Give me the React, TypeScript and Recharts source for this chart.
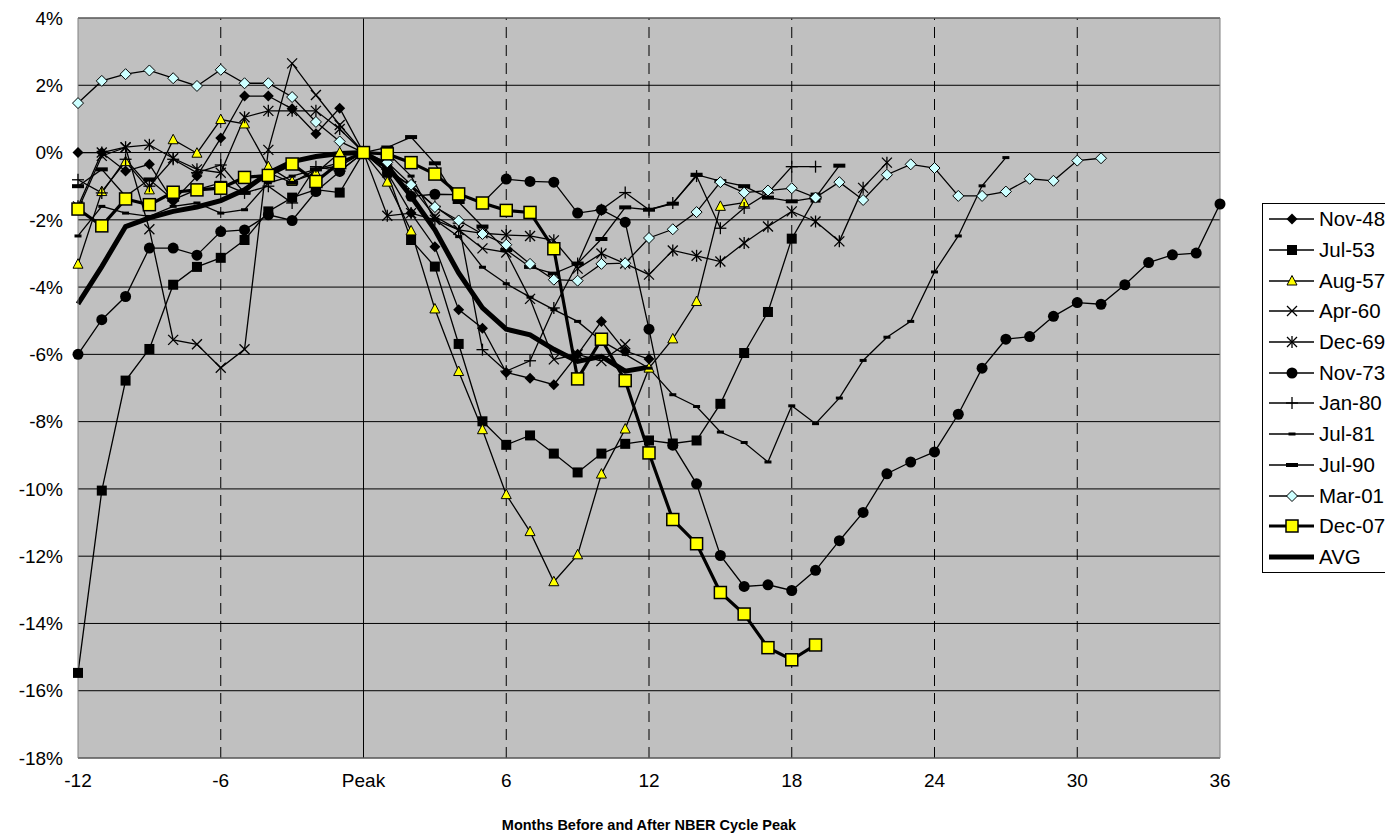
import { CartesianGrid, Line, LineChart, ReferenceLine, XAxis, YAxis } from 'recharts'

// months relative to the NBER cycle peak
const months = [
  -12, -11, -10, -9, -8, -7, -6, -5, -4, -3, -2, -1, 0, 1, 2, 3, 4, 5, 6, 7, 8, 9, 10, 11, 12,
  13, 14, 15, 16, 17, 18, 19, 20, 21, 22, 23, 24, 25, 26, 27, 28, 29, 30, 31, 32, 33, 34, 35, 36,
]
const xTicks = [-12, -6, 0, 6, 12, 18, 24, 30, 36]
const yTicks = [-18, -16, -14, -12, -10, -8, -6, -4, -2, 0, 2, 4]
const dashedMonths = [-6, 6, 12, 18, 24, 30]

// % change from peak, each list starts at month -12
const nov48 = [0.0, 0.0, -0.55, -0.35, -1.45, -0.7, 0.43, 1.68, 1.68, 1.3, 0.56, 1.32, 0, -0.6, -1.8, -2.8, -4.67, -5.22, -6.54, -6.71, -6.9, -6.0, -5.02, -5.9, -6.14]
const jul53 = [-15.47, -10.05, -6.78, -5.84, -3.93, -3.4, -3.13, -2.6, -1.75, -1.34, -1.1, -1.19, 0, -0.6, -2.6, -3.39, -5.69, -7.99, -8.69, -8.41, -8.95, -9.51, -8.95, -8.66, -8.56, -8.65, -8.56, -7.47, -5.96, -4.74, -2.56, -1.34]
const aug57 = [-3.32, -1.16, -0.27, -1.11, 0.38, -0.02, 0.98, 0.85, -0.42, -0.86, -0.61, 0.0, 0, -0.88, -2.33, -4.65, -6.51, -8.24, -10.17, -11.27, -12.76, -11.96, -9.56, -8.22, -6.41, -5.54, -4.43, -1.6, -1.49]
const apr60 = [-1.7, -0.1, 0.15, -2.28, -5.57, -5.7, -6.4, -5.85, 0.08, 2.65, 1.71, 0.82, 0, -0.5, -1.0, -1.9, -2.3, -2.85, -2.97, -4.35, -6.15, -6.0, -6.2, -5.7]
const dec69 = [-1.6, 0.0, 0.16, 0.23, -0.17, -0.5, -0.6, 1.05, 1.24, 1.24, 1.24, 0.7, 0, -1.88, -1.8, -2.0, -2.3, -2.4, -2.45, -2.48, -2.61, -3.45, -3.0, -3.3, -3.63, -2.91, -3.07, -3.24, -2.69, -2.2, -1.75, -2.05, -2.64, -1.05, -0.3]
const nov73 = [-6.0, -4.97, -4.28, -2.84, -2.84, -3.05, -2.35, -2.3, -1.85, -2.02, -1.16, -0.56, 0, -0.5, -1.3, -1.24, -1.25, -1.5, -0.79, -0.86, -0.88, -1.8, -1.7, -2.07, -5.25, -8.7, -9.85, -11.98, -12.9, -12.85, -13.02, -12.42, -11.54, -10.7, -9.55, -9.2, -8.9, -7.78, -6.41, -5.55, -5.47, -4.87, -4.46, -4.51, -3.93, -3.27, -3.04, -2.99, -1.53]
const jan80 = [-0.81, -1.2, -0.2, -1.0, -0.2, -0.6, -0.37, -1.2, -1.0, -1.5, -0.42, -0.55, 0, -0.5, -1.0, -1.6, -2.1, -5.86, -6.5, -6.19, -4.62, -3.3, -1.7, -1.19, -1.7, -1.5, -0.7, -2.25, -1.65, -1.2, -0.42, -0.42]
const jul81 = [-2.48, -1.6, -1.8, -1.9, -1.6, -1.5, -1.8, -1.7, -0.9, -0.7, -0.5, -0.3, 0, 0.0, -0.7, -2.0, -2.5, -3.41, -3.9, -4.3, -4.67, -5.02, -5.6, -6.0, -6.41, -7.2, -7.55, -8.31, -8.62, -9.2, -7.53, -8.06, -7.3, -6.18, -5.49, -5.02, -3.55, -2.48, -0.99, -0.15]
const jul90 = [-1.0, -0.5, -1.3, -0.8, -1.4, -1.1, -0.9, -1.2, -0.6, -0.9, -0.5, -0.4, 0, 0.15, 0.46, -0.32, -1.47, -2.2, -2.9, -3.4, -3.6, -3.3, -2.57, -1.63, -1.7, -1.52, -0.66, -0.85, -1.0, -1.34, -1.45, -1.34, -0.39]
const mar01 = [1.47, 2.13, 2.33, 2.44, 2.21, 1.98, 2.46, 2.06, 2.06, 1.65, 0.91, 0.33, 0, -0.29, -0.96, -1.62, -2.02, -2.42, -2.74, -3.31, -3.78, -3.81, -3.31, -3.29, -2.54, -2.28, -1.77, -0.88, -1.19, -1.13, -1.06, -1.34, -0.88, -1.41, -0.66, -0.35, -0.46, -1.29, -1.29, -1.16, -0.78, -0.84, -0.24, -0.17]
const dec07 = [-1.68, -2.18, -1.38, -1.55, -1.18, -1.11, -1.06, -0.74, -0.68, -0.34, -0.86, -0.3, 0, -0.04, -0.3, -0.64, -1.23, -1.5, -1.72, -1.78, -2.86, -6.73, -5.55, -6.78, -8.93, -10.91, -11.63, -13.08, -13.72, -14.72, -15.08, -14.64]
const avg = [-4.5, -3.39, -2.2, -1.94, -1.75, -1.62, -1.43, -1.11, -0.61, -0.27, -0.12, -0.03, 0, -0.4, -1.3, -2.3, -3.58, -4.62, -5.25, -5.42, -5.85, -6.21, -6.06, -6.5, -6.38]

type Shape = 'diamond' | 'square' | 'triangle' | 'x' | 'star' | 'circle' | 'plus' | 'dashS' | 'dashL' | 'cyanDiamond' | 'yellowSquare' | 'none'

type Series = { key: string; name: string; values: number[]; shape: Shape; width: number }

const seriesList: Series[] = [
  { key: 'nov48', name: 'Nov-48', values: nov48, shape: 'diamond', width: 1.3 },
  { key: 'jul53', name: 'Jul-53', values: jul53, shape: 'square', width: 1.3 },
  { key: 'aug57', name: 'Aug-57', values: aug57, shape: 'triangle', width: 1.3 },
  { key: 'apr60', name: 'Apr-60', values: apr60, shape: 'x', width: 1.3 },
  { key: 'dec69', name: 'Dec-69', values: dec69, shape: 'star', width: 1.3 },
  { key: 'nov73', name: 'Nov-73', values: nov73, shape: 'circle', width: 1.3 },
  { key: 'jan80', name: 'Jan-80', values: jan80, shape: 'plus', width: 1.3 },
  { key: 'jul81', name: 'Jul-81', values: jul81, shape: 'dashS', width: 1.3 },
  { key: 'jul90', name: 'Jul-90', values: jul90, shape: 'dashL', width: 1.3 },
  { key: 'mar01', name: 'Mar-01', values: mar01, shape: 'cyanDiamond', width: 1.3 },
  { key: 'dec07', name: 'Dec-07', values: dec07, shape: 'yellowSquare', width: 3.2 },
  { key: 'avg', name: 'AVG', values: avg, shape: 'none', width: 5 },
]

// AVG sits under Dec-07 in the original
const drawOrder = ['nov48', 'jul53', 'aug57', 'apr60', 'dec69', 'nov73', 'jan80', 'jul81', 'jul90', 'mar01', 'avg', 'dec07']

const chartData = months.map((m, i) => {
  const row: Record<string, number | undefined> = { m }
  seriesList.forEach((s) => {
    if (i < s.values.length) row[s.key] = s.values[i]
  })
  return row
})

const Marker = ({ shape, cx, cy }: { shape: Shape; cx: number; cy: number }) => {
  switch (shape) {
    case 'diamond':
      return <polygon points={`${cx},${cy - 5.5} ${cx + 5.5},${cy} ${cx},${cy + 5.5} ${cx - 5.5},${cy}`} fill="#000" />
    case 'square':
      return <rect x={cx - 5} y={cy - 5} width={10} height={10} fill="#000" />
    case 'triangle':
      return <polygon points={`${cx},${cy - 5.5} ${cx + 5},${cy + 4} ${cx - 5},${cy + 4}`} fill="#ffff00" stroke="#000" strokeWidth={1} />
    case 'x':
      return (
        <g stroke="#000" strokeWidth={1.3}>
          <line x1={cx - 5} y1={cy - 5} x2={cx + 5} y2={cy + 5} />
          <line x1={cx - 5} y1={cy + 5} x2={cx + 5} y2={cy - 5} />
        </g>
      )
    case 'star':
      return (
        <g stroke="#000" strokeWidth={1.3}>
          <line x1={cx - 5} y1={cy - 5} x2={cx + 5} y2={cy + 5} />
          <line x1={cx - 5} y1={cy + 5} x2={cx + 5} y2={cy - 5} />
          <line x1={cx} y1={cy - 6} x2={cx} y2={cy + 6} />
        </g>
      )
    case 'circle':
      return <circle cx={cx} cy={cy} r={5.5} fill="#000" />
    case 'plus':
      return (
        <g stroke="#000" strokeWidth={1.3}>
          <line x1={cx - 6} y1={cy} x2={cx + 6} y2={cy} />
          <line x1={cx} y1={cy - 6} x2={cx} y2={cy + 6} />
        </g>
      )
    case 'dashS':
      return <rect x={cx - 3.5} y={cy - 1.5} width={7} height={3} fill="#000" />
    case 'dashL':
      return <rect x={cx - 6} y={cy - 2} width={12} height={4} fill="#000" />
    case 'cyanDiamond':
      return <polygon points={`${cx},${cy - 5.5} ${cx + 5.5},${cy} ${cx},${cy + 5.5} ${cx - 5.5},${cy}`} fill="#ccffff" stroke="#000" strokeWidth={1} />
    case 'yellowSquare':
      return <rect x={cx - 6} y={cy - 6} width={12} height={12} fill="#ffff00" stroke="#000" strokeWidth={1.5} />
    default:
      return null
  }
}

const renderDot = (shape: Shape) => (props: any) => {
  const { cx, cy, index, value } = props
  if (shape === 'none' || value == null || cx == null || cy == null) return <g key={index} />
  return (
    <g key={index}>
      <Marker shape={shape} cx={cx} cy={cy} />
    </g>
  )
}

const LegendBox = () => (
  <div
    style={{
      position: 'absolute',
      left: 1254,
      top: 195,
      width: 131,
      height: 370,
      boxSizing: 'border-box',
      border: '1px solid #000',
      background: '#fff',
      fontFamily: '"Liberation Sans", Arial, sans-serif',
      fontSize: 20.5,
      overflow: 'hidden',
    }}
  >
    {seriesList.map((s) => (
      <div key={s.key} style={{ display: 'flex', alignItems: 'center', height: 30.7, whiteSpace: 'nowrap' }}>
        <svg width={56} height={20} style={{ flex: 'none' }}>
          <line x1={6} y1={10} x2={51} y2={10} stroke="#000" strokeWidth={s.key === 'avg' ? 5 : s.width} />
          {s.shape !== 'none' && <Marker shape={s.shape} cx={29} cy={10} />}
        </svg>
        <span>{s.name}</span>
      </div>
    ))}
  </div>
)

const App = () => {
  const lines = drawOrder.map((k) => seriesList.find((s) => s.key === k)!)
  return (
    <div style={{ position: 'relative', width: 1385, height: 828, fontFamily: '"Liberation Sans", Arial, sans-serif' }}>
      <LineChart width={1385} height={828} data={chartData} margin={{ top: 10, right: 173, bottom: 0, left: 0 }}>
        <CartesianGrid vertical={false} stroke="#000" fill="#c0c0c0" fillOpacity={1} />
        <XAxis
          dataKey="m"
          type="number"
          domain={[-12, 36]}
          ticks={xTicks}
          interval={0}
          tickFormatter={(v: number) => (v === 0 ? 'Peak' : String(v))}
          tick={{ fill: '#000', fontSize: 19 }}
          tickLine={false}
          tickSize={6}
          tickMargin={10}
          axisLine={{ stroke: '#808080' }}
          height={78}
          label={{ value: 'Months Before and After NBER Cycle Peak', position: 'insideBottom', offset: 6, fill: '#000', fontSize: 14.5, fontWeight: 'bold' }}
        />
        <YAxis
          type="number"
          domain={[-18, 4]}
          ticks={yTicks}
          interval={0}
          tickFormatter={(v: number) => `${v}%`}
          tick={{ fill: '#000', fontSize: 19 }}
          tickLine={false}
          tickSize={6}
          tickMargin={9}
          axisLine={{ stroke: '#808080' }}
          width={70}
        />
        {dashedMonths.map((m) => (
          <ReferenceLine key={m} x={m} stroke="#000" strokeDasharray="11 7" />
        ))}
        <ReferenceLine x={0} stroke="#000" />
        <ReferenceLine x={36} stroke="#808080" />
        <ReferenceLine y={4} stroke="#808080" />
        {lines.map((s) => (
          <Line
            key={s.key}
            type="linear"
            dataKey={s.key}
            name={s.name}
            stroke="#000"
            strokeWidth={s.width}
            dot={renderDot(s.shape)}
            activeDot={false}
            isAnimationActive={false}
          />
        ))}
      </LineChart>
      <LegendBox />
    </div>
  )
}

export default App
